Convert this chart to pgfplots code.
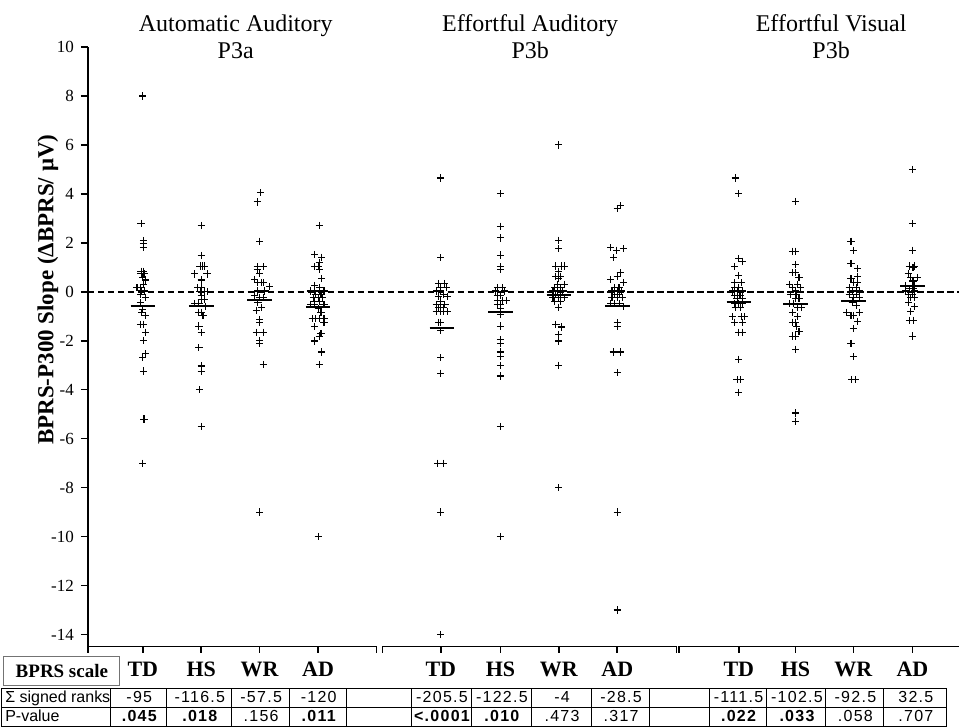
\documentclass[border=0pt]{standalone}
\usepackage{fontspec}
\setmainfont{Liberation Serif}
\newfontfamily\tabfont{Liberation Sans}
\newfontfamily\numfont[LetterSpace=8]{Liberation Sans}
\usepackage{pgfplots}
\pgfplotsset{compat=1.18}

% one table cell: x centre, baseline, text
\newcommand\tcell[3]{\node[anchor=base, inner sep=0, xshift=0.3pt, font=\numfont\fontsize{8}{9}\selectfont] at (axis cs:#1,#2) {#3};}
\newcommand\cat[2]{\node[anchor=base, inner sep=0, font=\bfseries\fontsize{11}{13}\selectfont] at (axis cs:#1,-15.71) {#2};}
\newcommand\xtk[1]{\draw[line width=0.8pt] (axis cs:#1,-14.49) -- ([yshift=-3.5pt]axis cs:#1,-14.49);}

\begin{document}
\begin{tikzpicture}
\begin{axis}[
  scale only axis, width=436pt, height=300pt,
  xmin=0.06, xmax=14.97, ymin=-14.49, ymax=10,
  axis y line*=left, axis x line=none,
  ytick={-14,-12,...,10},
  tick align=outside, major tick length=3.5pt,
  every tick/.style={black, line width=0.8pt},
  axis line style={line width=0.9pt},
  yticklabel style={font=\fontsize{8.5}{10}\selectfont},
  /pgf/number format/assume math mode=true,
  ylabel={BPRS-P300 Slope (ΔBPRS/ μV)},
  ylabel style={font=\bfseries\fontsize{11.5}{13}\selectfont, at={(axis description cs:-0.046,0.595)}, anchor=center},
  clip=false,
  pt/.style={black, only marks, mark=+, mark size=1.8pt, mark options={line width=0.55pt}},
  mn/.style={black, line width=1pt, no marks},
]
% zero reference
\addplot[black, line width=0.9pt, dash pattern=on 3.3pt off 1.7pt, no marks] coordinates {(0.06,0) (14.97,0)};

% ---- Automatic Auditory P3a
\addplot[pt] coordinates {(1,8.0) (0.97,2.79) (1.01,2.1) (1.01,1.98) (1.01,1.8) (0.97,0.84) (1.01,0.84)
 (0.97,0.73) (1.02,0.73) (1.0,0.6) (1.05,0.48) (1.01,0.3) (0.9,0.16) (0.96,0.16) (0.98,0.03) (1.03,0.03)
 (0.96,-0.1) (1.05,-0.25) (0.96,-0.45) (1.0,-0.72) (0.98,-0.86) (1.05,-0.97) (0.96,-1.33) (1.01,-1.33)
 (1.05,-1.65) (1.01,-1.99) (1.05,-2.53) (1.0,-2.69) (1.01,-3.24) (1.02,-5.2) (1.0,-7.0)};
\addplot[pt] coordinates {(2,2.71) (2,1.48) (1.98,1.05) (2.02,1.05) (2.06,1.05) (1.89,0.73) (2.1,0.73)
 (2,0.48) (1.94,0.16) (2,0.16) (1.98,0.0) (2.05,0.0) (2.1,0.0) (2,-0.15) (2,-0.31) (2.05,-0.31)
 (1.89,-0.48) (1.96,-0.48) (2.07,-0.59) (1.96,-0.83) (2,-0.83) (2.03,-0.97) (1.96,-1.4) (2,-1.67)
 (1.96,-2.29) (2,-3.03) (2,-3.24) (1.97,-4.0) (2,-5.5)};
\addplot[pt] coordinates {(3.02,4.04) (2.96,3.67) (3,2.07) (2.96,1.02) (3.06,1.02) (2.96,0.91) (3,0.75)
 (2.91,0.5) (2.97,0.37) (3.03,0.37) (3.07,0.37) (3.17,0.2) (2.97,0.03) (3.09,0.03) (2.91,-0.15)
 (3,-0.24) (3.06,-0.24) (2.97,-0.45) (3.03,-0.65) (2.94,-0.76) (3,-1.13) (3,-1.24) (2.94,-1.65)
 (3.06,-1.65) (3,-1.99) (3,-2.11) (3.06,-2.97) (3,-9.0)};
\addplot[pt] coordinates {(4.02,2.71) (3.94,1.52) (4.06,1.41) (4.02,1.21) (3.94,1.02) (4,1.02) (4.02,0.91)
 (4.06,0.53) (3.94,0.26) (4.02,0.16) (3.87,0.03) (3.94,0.03) (4.02,0.03) (4.1,0.03) (3.95,-0.1) (4.05,-0.1)
 (3.92,-0.24) (4,-0.24) (4.07,-0.24) (3.94,-0.38) (4.02,-0.38) (3.87,-0.52) (3.94,-0.52) (4.1,-0.52)
 (4,-0.69) (4.05,-0.86) (3.9,-1.1) (3.95,-1.1) (4.02,-1.1) (4.1,-1.1) (4.1,-1.24) (3.94,-1.43)
 (4.05,-1.7) (4.02,-1.81) (3.94,-2.01) (4.06,-2.46) (4.02,-2.97) (4,-10.0)};

% ---- Effortful Auditory P3b
\addplot[pt] coordinates {(6.1,4.65) (6.1,1.39) (6.06,0.34) (6.16,0.34) (6.1,0.16) (6.2,0.16) (6.03,0.03)
 (6.1,0.03) (6.15,-0.1) (6.06,-0.2) (6.21,-0.2) (6.1,-0.38) (6.02,-0.52) (6.1,-0.52) (6.17,-0.52)
 (6.06,-0.65) (6.15,-0.65) (6.02,-0.82) (6.09,-0.82) (6.15,-0.82) (6.21,-0.82) (6.06,-1.24) (6.1,-1.24)
 (6.1,-1.58) (6.1,-2.69) (6.1,-3.33) (6.05,-7.0) (6.15,-7.0) (6.1,-9.0) (6.1,-14.0)};
\addplot[pt] coordinates {(7.12,4.01) (7.12,2.68) (7.12,2.2) (7.12,1.5) (7.12,1.02) (7.12,0.91) (7.07,0.16)
 (7.15,0.16) (7.03,0.03) (7.19,0.03) (7.07,-0.15) (7.12,-0.15) (7.07,-0.34) (7.15,-0.34) (7.22,-0.34)
 (7.07,-0.52) (7.12,-0.52) (7.12,-0.69) (7.12,-0.93) (7.12,-1.4) (7.12,-1.95) (7.12,-2.11) (7.12,-2.46)
 (7.12,-2.63) (7.12,-3.0) (7.12,-3.44) (7.12,-5.5) (7.12,-10.0)};
\addplot[pt] coordinates {(8.12,6.0) (8.12,2.11) (8.12,1.76) (8.07,1.05) (8.16,1.05) (8.21,1.05) (8.12,0.84)
 (8.07,0.64) (8.15,0.64) (8.12,0.53) (8.09,0.3) (8.21,0.3) (8.05,0.16) (8.15,0.16) (8.02,0.03) (8.1,0.03)
 (8.19,0.03) (8.07,-0.1) (8.15,-0.1) (8.02,-0.24) (8.12,-0.24) (8.22,-0.24) (8.05,-0.38) (8.15,-0.38)
 (8.12,-0.63) (8.07,-1.33) (8.16,-1.44) (8.12,-1.74) (8.12,-2.01) (8.12,-3.0) (8.12,-8.0)};
\addplot[pt] coordinates {(9.17,3.52) (9.12,3.39) (9.01,1.8) (9.11,1.7) (9.22,1.76) (9.06,1.39) (9.17,0.78)
 (9.12,0.64) (9.01,0.5) (9.22,0.37) (9.07,0.16) (9.15,0.16) (9.03,0.03) (9.12,0.03) (9.19,0.03)
 (9.07,-0.1) (9.16,-0.1) (9.03,-0.24) (9.12,-0.24) (9.21,-0.24) (9.01,-0.48) (9.07,-0.48) (9.16,-0.48)
 (9.22,-0.61) (9.12,-1.27) (9.12,-1.4) (9.05,-2.46) (9.18,-2.46) (9.12,-3.31) (9.12,-9.0) (9.12,-13.0)};

% ---- Effortful Visual P3b
\addplot[pt] coordinates {(11.14,4.65) (11.2,4.01) (11.2,1.35) (11.26,1.25) (11.13,1.02) (11.2,0.67)
 (11.13,0.37) (11.24,0.37) (11.13,0.16) (11.2,0.16) (11.09,0.03) (11.17,0.03) (11.26,0.03) (11.13,-0.15)
 (11.22,-0.15) (11.17,-0.29) (11.26,-0.29) (11.13,-0.48) (11.2,-0.48) (11.26,-0.48) (11.14,-0.65)
 (11.23,-0.65) (11.09,-1.02) (11.24,-1.02) (11.29,-1.02) (11.13,-1.24) (11.26,-1.24) (11.2,-1.65)
 (11.26,-1.65) (11.2,-2.76) (11.17,-3.59) (11.23,-3.59) (11.2,-4.13)};
\addplot[pt] coordinates {(12.17,3.69) (12.12,1.66) (12.17,1.66) (12.17,1.12) (12.12,0.78) (12.17,0.78)
 (12.23,0.57) (12.07,0.3) (12.21,0.3) (12.12,0.16) (12.25,0.16) (12.17,0.03) (12.09,-0.1) (12.19,-0.1)
 (12.17,-0.29) (12.23,-0.29) (12.07,-0.48) (12.14,-0.48) (12.21,-0.65) (12.27,-0.65) (12.12,-0.83)
 (12.21,-1.02) (12.12,-1.24) (12.17,-1.24) (12.19,-1.43) (12.23,-1.61) (12.12,-1.81) (12.17,-1.81)
 (12.17,-2.35) (12.17,-4.95) (12.17,-5.29)};
\addplot[pt] coordinates {(13.12,2.07) (13.16,1.69) (13.12,1.16) (13.23,0.94) (13.23,0.64) (13.12,0.53)
 (13.16,0.37) (13.23,0.37) (13.09,0.16) (13.21,0.16) (13.14,0.03) (13.26,0.03) (13.09,-0.1) (13.21,-0.1)
 (13.16,-0.24) (13.27,-0.24) (13.14,-0.42) (13.21,-0.56) (13.05,-0.83) (13.26,-0.83) (13.12,-0.97)
 (13.16,-0.97) (13.23,-1.2) (13.16,-1.51) (13.12,-2.11) (13.16,-2.65) (13.13,-3.59) (13.19,-3.59)};
\addplot[pt] coordinates {(14.17,5.0) (14.17,2.78) (14.17,1.7) (14.12,1.05) (14.21,1.05) (14.18,0.98)
 (14.1,0.75) (14.14,0.57) (14.26,0.57) (14.18,0.44) (14.06,0.26) (14.21,0.26) (14.12,0.12) (14.18,0.12)
 (14.06,0.03) (14.21,0.03) (14.1,-0.1) (14.17,-0.1) (14.14,-0.24) (14.21,-0.24) (14.11,-0.42)
 (14.21,-0.61) (14.14,-0.79) (14.12,-1.16) (14.19,-1.16) (14.17,-1.81)};

% ---- group means
\addplot[mn] coordinates {(0.79,-0.59) (1.21,-0.59)};
\addplot[mn] coordinates {(1.79,-0.59) (2.21,-0.59)};
\addplot[mn] coordinates {(2.79,-0.34) (3.21,-0.34)};
\addplot[mn] coordinates {(3.79,-0.64) (4.21,-0.64)};
\addplot[mn] coordinates {(5.91,-1.48) (6.33,-1.48)};
\addplot[mn] coordinates {(6.91,-0.83) (7.33,-0.83)};
\addplot[mn] coordinates {(7.91,-0.12) (8.33,-0.12)};
\addplot[mn] coordinates {(8.91,-0.6) (9.33,-0.6)};
\addplot[mn] coordinates {(10.99,-0.42) (11.41,-0.42)};
\addplot[mn] coordinates {(11.96,-0.48) (12.38,-0.48)};
\addplot[mn] coordinates {(12.95,-0.37) (13.37,-0.37)};
\addplot[mn] coordinates {(13.96,0.23) (14.38,0.23)};

% ---- panel titles
\node[anchor=base, inner sep=0, font=\fontsize{12}{14}\selectfont] at (axis cs:2.59,10.65) {Automatic Auditory};
\node[anchor=base, inner sep=0, font=\fontsize{12}{14}\selectfont] at (axis cs:2.59,9.55) {P3a};
\node[anchor=base, inner sep=0, font=\fontsize{12}{14}\selectfont] at (axis cs:7.63,10.65) {Effortful Auditory};
\node[anchor=base, inner sep=0, font=\fontsize{12}{14}\selectfont] at (axis cs:7.63,9.55) {P3b};
\node[anchor=base, inner sep=0, font=\fontsize{12}{14}\selectfont] at (axis cs:12.78,10.65) {Effortful Visual};
\node[anchor=base, inner sep=0, font=\fontsize{12}{14}\selectfont] at (axis cs:12.78,9.55) {P3b};

% ---- broken x axis
\draw[line width=0.9pt] (axis cs:0.06,-14.49) -- (axis cs:5.0,-14.49);
\draw[line width=0.9pt] (axis cs:5.1,-14.49) -- (axis cs:10.13,-14.49);
\draw[line width=0.9pt] (axis cs:10.18,-14.49) -- (axis cs:14.97,-14.49);
\xtk{0.06}\xtk{1}\xtk{2}\xtk{3}\xtk{4}\xtk{5.0}\xtk{5.1}
\xtk{6.1}\xtk{7.12}\xtk{8.12}\xtk{9.12}\xtk{10.13}\xtk{10.18}
\xtk{11.2}\xtk{12.17}\xtk{13.16}\xtk{14.17}

% ---- scale names
\node[draw=black!55, line width=0.5pt, minimum width=58pt, minimum height=14.5pt, inner sep=0,
  font=\bfseries\fontsize{9.5}{11}\selectfont] at (axis cs:-0.385,-15.49) {BPRS scale};
\cat{1}{TD}\cat{2}{HS}\cat{3}{WR}\cat{4}{AD}
\cat{6.1}{TD}\cat{7.12}{HS}\cat{8.12}{WR}\cat{9.12}{AD}
\cat{11.2}{TD}\cat{12.17}{HS}\cat{13.16}{WR}\cat{14.17}{AD}

% ---- statistics table
\draw[line width=0.5pt] (axis cs:-1.41,-16.2) -- (axis cs:14.76,-16.2);
\draw[line width=0.5pt] (axis cs:-1.41,-16.98) -- (axis cs:14.76,-16.98);
\draw[line width=0.5pt] (axis cs:-1.41,-17.76) -- (axis cs:14.76,-17.76);
\foreach \u in {-1.41,0.45,1.41,2.52,3.51,4.49,5.6,6.62,7.65,8.68,9.67,10.69,11.68,12.69,13.68,14.76}
  {\edef\tmp{\noexpand\draw[line width=0.5pt] (axis cs:\u,-16.2) -- (axis cs:\u,-17.76);}\tmp}
\node[anchor=base west, inner sep=0, font=\tabfont\fontsize{8}{9}\selectfont] at (axis cs:-1.36,-16.78) {Σ signed ranks};
\node[anchor=base west, inner sep=0, font=\tabfont\fontsize{8}{9}\selectfont] at (axis cs:-1.36,-17.55) {P-value};
\tcell{0.93}{-16.78}{-95}\tcell{1.965}{-16.78}{-116.5}\tcell{3.015}{-16.78}{-57.5}\tcell{4.0}{-16.78}{-120}
\tcell{6.11}{-16.78}{-205.5}\tcell{7.135}{-16.78}{-122.5}\tcell{8.165}{-16.78}{-4}\tcell{9.175}{-16.78}{-28.5}
\tcell{11.185}{-16.78}{-111.5}\tcell{12.185}{-16.78}{-102.5}\tcell{13.185}{-16.78}{-92.5}\tcell{14.22}{-16.78}{32.5}
\tcell{0.93}{-17.55}{\bfseries .045}\tcell{1.965}{-17.55}{\bfseries .018}\tcell{3.015}{-17.55}{.156}\tcell{4.0}{-17.55}{\bfseries .011}
\tcell{6.11}{-17.55}{\bfseries <.0001}\tcell{7.135}{-17.55}{\bfseries .010}\tcell{8.165}{-17.55}{.473}\tcell{9.175}{-17.55}{.317}
\tcell{11.185}{-17.55}{\bfseries .022}\tcell{12.185}{-17.55}{\bfseries .033}\tcell{13.185}{-17.55}{.058}\tcell{14.22}{-17.55}{.707}

% page frame with the reference's proportions
\path (axis cs:-1.444,11.92) rectangle (axis cs:14.97,-17.8);
\end{axis}
\end{tikzpicture}
\end{document}
